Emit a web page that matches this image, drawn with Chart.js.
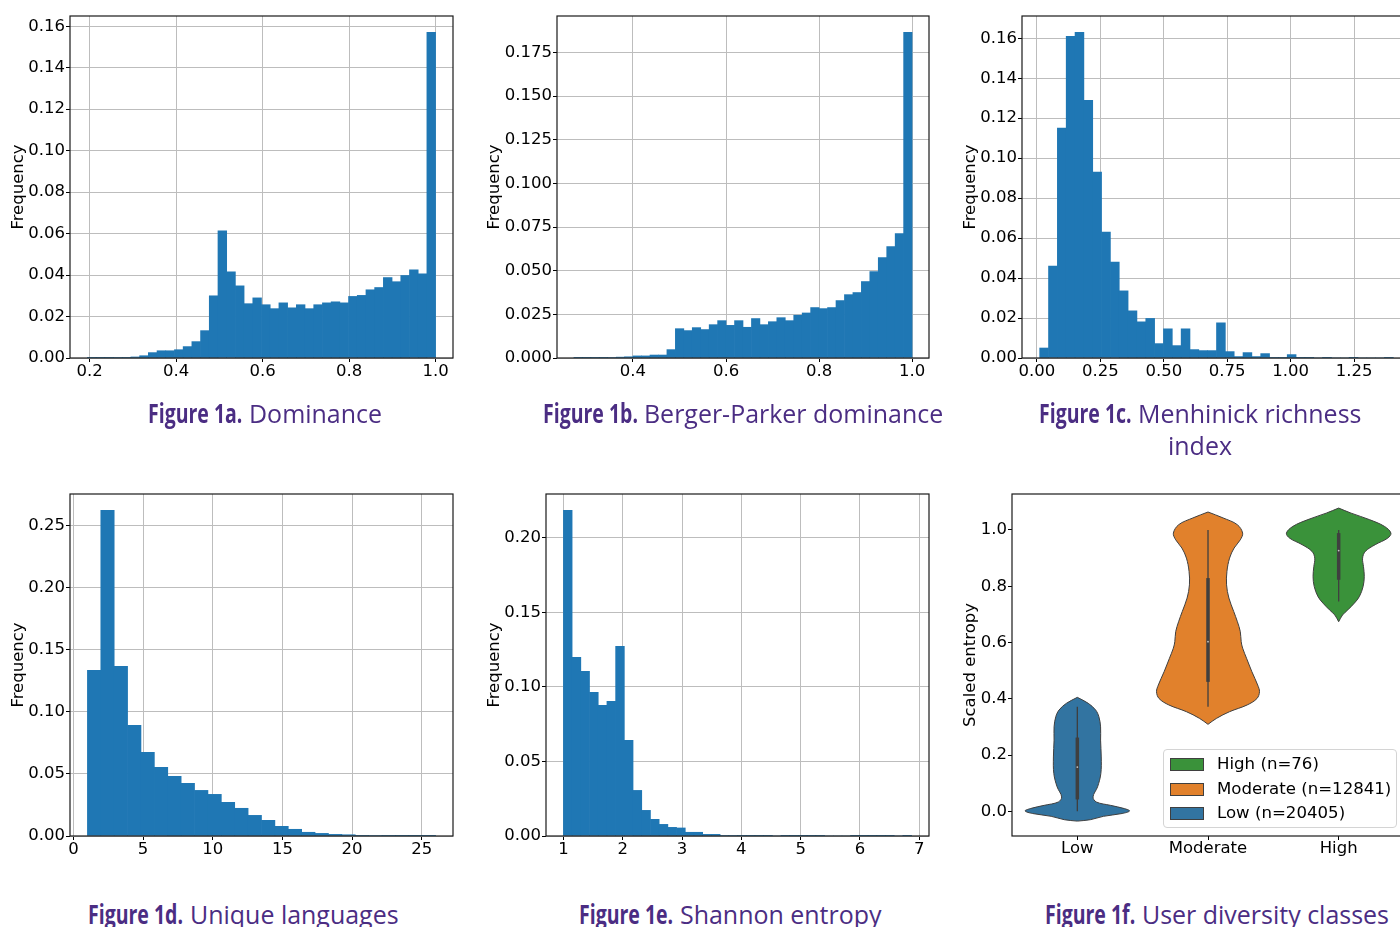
<!DOCTYPE html>
<html>
<head>
<meta charset="utf-8">
<script src="https://cdn.jsdelivr.net/npm/chart.js@4.4.0/dist/chart.umd.min.js"></script>
<style>
  html, body { margin: 0; padding: 0; background: #fff; }
  body { width: 1400px; height: 927px; overflow: hidden; position: relative; }
  canvas { position: absolute; }
  .cap {
    position: absolute; width: 600px; margin-left: -300px; text-align: center;
    font-family: 'Open Sans', sans-serif;
    font-size: 26px; line-height: 32px; color: #4b2d83; white-space: nowrap;
  }
  .sq { display: inline-block; white-space: nowrap; vertical-align: top; }
  .sq > span { display: inline-block; transform-origin: 0 0; }
  .bold { font-weight: 700; }
  #leg {
    position: absolute; left: 1163px; top: 749px; width: 232px; height: 77px;
    border: 1px solid #d4d4d4; border-radius: 4px; background: rgba(255,255,255,0.8);
    font-family: 'DejaVu Sans', sans-serif; font-size: 16.6px; color: #000;
  }
  #leg .row { position: absolute; left: 0; height: 20px; line-height: 20px; white-space: nowrap; }
  #leg .patch { position: absolute; left: 6px; top: 4px; width: 32px; height: 11px; border: 1px solid #3f3f3f; }
  #leg .txt { position: absolute; left: 53px; top: 0; }
</style>
</head>
<body>
<canvas id="ca"></canvas>
<canvas id="cb"></canvas>
<canvas id="cc"></canvas>
<canvas id="cd"></canvas>
<canvas id="ce"></canvas>
<canvas id="cf"></canvas>
<div id="leg"></div>

<script>
// --- DATA ---
// 1a Dominance: 40 bins
const A_RANGE = [0.195, 1.0];
const A_FREQ = [0.0001, 0.0001, 0.0001, 0.0002, 0.0003, 0.0005, 0.0011, 0.0026, 0.0035, 0.0035,
  0.0040, 0.0055, 0.0079, 0.0132, 0.0300, 0.0613, 0.0416, 0.0348, 0.0262, 0.0290,
  0.0257, 0.0238, 0.0266, 0.0242, 0.0257, 0.0238, 0.0257, 0.0266, 0.0271, 0.0266,
  0.0297, 0.0302, 0.0329, 0.0340, 0.0388, 0.0368, 0.0398, 0.0425, 0.0406, 0.1571];
const A_XTICKS = [0.2, 0.4, 0.6, 0.8, 1.0];
const A_YTICKS = [0, 0.02, 0.04, 0.06, 0.08, 0.10, 0.12, 0.14, 0.16];

// 1b Berger-Parker dominance
const B_RANGE = [0.273, 1.0];
const B_FREQ = [0.0001, 0.0001, 0.0002, 0.0002, 0.0003, 0.0005, 0.0007, 0.0012, 0.0012, 0.0017,
  0.0017, 0.0048, 0.0168, 0.0157, 0.0174, 0.0163, 0.0191, 0.0214, 0.0187, 0.0214,
  0.0176, 0.0226, 0.0191, 0.0208, 0.0231, 0.0214, 0.0245, 0.0258, 0.0289, 0.0283,
  0.0289, 0.0329, 0.0363, 0.0375, 0.0438, 0.0495, 0.0576, 0.0639, 0.0713, 0.1866];
const B_XTICKS = [0.4, 0.6, 0.8, 1.0];
const B_YTICKS = [0, 0.025, 0.05, 0.075, 0.1, 0.125, 0.15, 0.175];

// 1c Menhinick richness index
const C_RANGE = [0.0107, 1.405];
const C_FREQ = [0.005, 0.046, 0.115, 0.161, 0.163, 0.129, 0.093, 0.063, 0.048, 0.0336,
  0.0236, 0.0181, 0.0198, 0.0072, 0.0146, 0.0062, 0.0146, 0.0042, 0.0037, 0.0037,
  0.0176, 0.0032, 0.0007, 0.0027, 0.0007, 0.0022, 0.0003, 0.0002, 0.0017, 0.0001,
  0.0001, 0, 0.0001, 0, 0, 0.0001, 0, 0, 0, 0.0001];
const C_XTICKS = [0, 0.25, 0.5, 0.75, 1.0, 1.25];
const C_YTICKS = [0, 0.02, 0.04, 0.06, 0.08, 0.10, 0.12, 0.14, 0.16];

// 1d Unique languages: 26 bins
const D_RANGE = [1, 26];
const D_FREQ = [0.1333, 0.2621, 0.1365, 0.0891, 0.0673, 0.0553, 0.0480, 0.0424, 0.0367, 0.0335,
  0.0271, 0.0223, 0.0166, 0.0126, 0.0078, 0.0054, 0.0030, 0.0021, 0.0013, 0.0010,
  0.0005, 0.0004, 0.0003, 0.0002, 0.0002, 0.0002];
const D_XTICKS = [0, 5, 10, 15, 20, 25];
const D_YTICKS = [0, 0.05, 0.10, 0.15, 0.20, 0.25];

// 1e Shannon entropy
const E_RANGE = [1.0, 6.87];
const E_FREQ = [0.2186, 0.1199, 0.1105, 0.0964, 0.0877, 0.0904, 0.1273, 0.0642, 0.0306, 0.0172,
  0.0112, 0.0078, 0.0058, 0.0054, 0.0025, 0.0025, 0.0011, 0.0011, 0.0003, 0.0003,
  0.0002, 0.0002, 0.0002, 0.0002, 0, 0.0002, 0.0002, 0.0002, 0.0002, 0.0002,
  0, 0, 0, 0.0002, 0.0002, 0.0002, 0.0002, 0.0002, 0, 0.0002];
const E_XTICKS = [1, 2, 3, 4, 5, 6, 7];
const E_YTICKS = [0, 0.05, 0.10, 0.15, 0.20];

// 1f violin: classes, sizes, density half-widths at entropy levels
const CLASSES = ['Low', 'Moderate', 'High'];
const CLASS_N = [20405, 12841, 76];
const CLASS_COLORS = ['#3274a1', '#e1812c', '#3a923a'];
const LOW_Y = [-0.035, -0.03, -0.018, -0.008, 0.001, 0.0095, 0.021, 0.033, 0.051, 0.087, 0.134, 0.193, 0.253, 0.30, 0.336, 0.36, 0.384, 0.405];
const LOW_W = [0, 0.10, 0.20, 0.343, 0.40, 0.36, 0.254, 0.145, 0.12, 0.155, 0.18, 0.183, 0.178, 0.178, 0.165, 0.14, 0.083, 0];
const MOD_Y = [0.309, 0.33, 0.354, 0.378, 0.401, 0.425, 0.449, 0.496, 0.544, 0.58, 0.603, 0.639, 0.674, 0.71, 0.758, 0.805, 0.853, 0.90, 0.936, 0.965, 0.989, 1.019, 1.043, 1.064];
const MOD_W = [0, 0.064, 0.165, 0.30, 0.375, 0.394, 0.38, 0.336, 0.295, 0.265, 0.254, 0.247, 0.225, 0.197, 0.16, 0.142, 0.145, 0.165, 0.2, 0.247, 0.265, 0.224, 0.115, 0];
const HIGH_Y = [0.674, 0.698, 0.716, 0.74, 0.763, 0.799, 0.835, 0.87, 0.90, 0.924, 0.948, 0.971, 0.989, 1.013, 1.037, 1.06, 1.078];
const HIGH_W = [0, 0.03, 0.07, 0.12, 0.158, 0.187, 0.196, 0.19, 0.183, 0.204, 0.28, 0.375, 0.40, 0.35, 0.235, 0.095, 0];
const WHISK_LO = [0.0, 0.372, 0.746];
const BOX_Q1 = [0.042, 0.46, 0.823];
const BOX_MED = [0.157, 0.603, 0.927];
const BOX_Q3 = [0.262, 0.829, 0.989];
const WHISK_HI = [0.372, 1.0, 1.0];
const F_YTICKS = [0, 0.2, 0.4, 0.6, 0.8, 1.0];

// --- SETUP ---
Chart.defaults.font.family = "'DejaVu Sans', sans-serif";
Chart.defaults.font.size = 16.5;
Chart.defaults.color = '#000';

const BLUE = '#1f77b4';
const GRID = '#bdbdbd';

// axes frame on all four sides like matplotlib spines
const frame = {
  id: 'frame',
  afterDraw(chart) {
    const { ctx, chartArea: a } = chart;
    ctx.save();
    ctx.strokeStyle = '#1a1a1a';
    ctx.lineWidth = 1.2;
    ctx.strokeRect(a.left, a.top, a.right - a.left, a.bottom - a.top);
    ctx.restore();
  }
};

function placeCanvas(id, area, yW, padTop, axisH, padRight) {
  const c = document.getElementById(id);
  c.width = yW + (area[2] - area[0]) + padRight;
  c.height = padTop + (area[3] - area[1]) + axisH;
  c.style.left = (area[0] - yW) + 'px';
  c.style.top = (area[1] - padTop) + 'px';
  return c;
}

function hist(id, area, yW, labelX, range, freq, xTicks, xDec, yTicks, yDec) {
  const padTop = 16, axisH = 40, padRight = 20;
  const canvas = placeCanvas(id, area, yW, padTop, axisH, padRight);
  const [lo, hi] = range;
  const bw = (hi - lo) / freq.length;
  const pts = freq.map((v, k) => ({ x: lo + bw * (k + 0.5), y: v }));
  const m = 0.05 * (hi - lo);
  new Chart(canvas, {
    type: 'bar',
    data: {
      datasets: [{
        data: pts, backgroundColor: BLUE, borderWidth: 0,
        barPercentage: 1, categoryPercentage: 1
      }]
    },
    options: {
      responsive: false, animation: false,
      layout: { padding: { top: padTop, right: padRight, left: 0, bottom: 0 } },
      plugins: { legend: { display: false }, tooltip: { enabled: false } },
      scales: {
        x: {
          type: 'linear', min: lo - m, max: hi + m, offset: false, z: 1,
          afterFit: s => { s.height = axisH; },
          afterBuildTicks: s => { s.ticks = xTicks.map(v => ({ value: v })); },
          ticks: { callback: v => v.toFixed(xDec), padding: 0, maxRotation: 0, autoSkip: false },
          grid: { color: GRID, tickColor: '#000', tickLength: 4, offset: false },
          border: { display: false }
        },
        y: {
          min: 0, max: Math.max(...freq) * 1.05, z: 1,
          afterFit: s => { s.width = yW; },
          afterBuildTicks: s => { s.ticks = yTicks.map(v => ({ value: v })); },
          ticks: { callback: v => v.toFixed(yDec), padding: 1 },
          grid: { color: GRID, tickColor: '#000', tickLength: 4 },
          border: { display: false },
          title: {
            display: true, text: 'Frequency',
            padding: { top: yW - (area[0] - labelX) - 9.9, bottom: 0 }
          }
        }
      }
    },
    plugins: [frame]
  });
}

hist('ca', [70, 16, 453, 358], 70, 18.7, A_RANGE, A_FREQ, A_XTICKS, 1, A_YTICKS, 2);
hist('cb', [557, 16, 929, 358], 80, 495, B_RANGE, B_FREQ, B_XTICKS, 1, B_YTICKS, 3);
hist('cc', [1022, 16, 1411, 358], 70, 970.3, C_RANGE, C_FREQ, C_XTICKS, 2, C_YTICKS, 2);
hist('cd', [70, 494, 453, 836], 70, 18.7, D_RANGE, D_FREQ, D_XTICKS, 0, D_YTICKS, 2);
hist('ce', [546, 494, 929, 836], 70, 494.5, E_RANGE, E_FREQ, E_XTICKS, 0, E_YTICKS, 2);

// --- VIOLIN ---
function violinPts(center, ys, ws) {
  const right = ys.map((y, i) => ({ x: center + ws[i], y }));
  const left = ys.map((y, i) => ({ x: center - ws[i], y })).reverse();
  return right.concat(left);
}

(function () {
  const area = [1012, 494, 1404, 836];
  const yW = 60, padTop = 16, axisH = 40, padRight = 10;
  const canvas = placeCanvas('cf', area, yW, padTop, axisH, padRight);
  const profiles = [[LOW_Y, LOW_W], [MOD_Y, MOD_W], [HIGH_Y, HIGH_W]];
  const datasets = [];
  // higher order is drawn first (underneath)
  profiles.forEach(([ys, ws], i) => {
    datasets.push({
      data: violinPts(i, ys, ws), fill: 'shape', backgroundColor: CLASS_COLORS[i], order: 3,
      borderColor: '#3f3f3f', borderWidth: 1, pointRadius: 0, tension: 0.35
    });
  });
  CLASSES.forEach((c, i) => {
    datasets.push({
      data: [{ x: i, y: WHISK_LO[i] }, { x: i, y: WHISK_HI[i] }], order: 2,
      borderColor: '#3f3f3f', borderWidth: 1.3, pointRadius: 0, fill: false
    });
    datasets.push({
      data: [{ x: i, y: BOX_Q1[i] }, { x: i, y: BOX_Q3[i] }], order: 1,
      borderColor: '#3f3f3f', borderWidth: 3.5, borderCapStyle: 'butt', pointRadius: 0, fill: false
    });
  });
  datasets.push({
    data: BOX_MED.map((y, i) => ({ x: i, y })), showLine: false, order: 0,
    pointRadius: 0.9, pointBackgroundColor: 'rgba(255,255,255,0.7)', pointBorderWidth: 0
  });

  new Chart(canvas, {
    type: 'line',
    data: { datasets },
    options: {
      responsive: false, animation: false,
      layout: { padding: { top: padTop, right: padRight, left: 0, bottom: 0 } },
      plugins: { legend: { display: false }, tooltip: { enabled: false } },
      scales: {
        x: {
          type: 'linear', min: -0.5, max: 2.5, offset: false,
          afterFit: s => { s.height = axisH; },
          afterBuildTicks: s => { s.ticks = CLASSES.map((c, i) => ({ value: i })); },
          ticks: { callback: v => CLASSES[v], padding: -1, maxRotation: 0, autoSkip: false },
          grid: { drawOnChartArea: false, tickColor: '#000', tickLength: 4 },
          border: { display: false }
        },
        y: {
          min: -0.088, max: 1.128,
          afterFit: s => { s.width = yW; },
          afterBuildTicks: s => { s.ticks = F_YTICKS.map(v => ({ value: v })); },
          ticks: { callback: v => v.toFixed(1), padding: 1 },
          grid: { drawOnChartArea: false, tickColor: '#000', tickLength: 4 },
          border: { display: false },
          title: { display: true, text: 'Scaled entropy', padding: { top: yW - (area[0] - 970.3) - 9.9, bottom: 0 } }
        }
      }
    },
    plugins: [frame]
  });
})();

// legend: High, Moderate, Low from top
const leg = document.getElementById('leg');
[2, 1, 0].forEach((ci, r) => {
  const row = document.createElement('div');
  row.className = 'row';
  row.style.top = (4 + r * 24.5) + 'px';
  row.innerHTML = '<span class="patch" style="background:' + CLASS_COLORS[ci] + '"></span>' +
    '<span class="txt">' + CLASSES[ci] + ' (n=' + CLASS_N[ci] + ')</span>';
  leg.appendChild(row);
});

// captions (condensed look: bold part squeezed horizontally)
const CAPTIONS = [
  ['Figure 1a.', ['Dominance'], 265, 397],
  ['Figure 1b.', ['Berger-Parker dominance'], 743, 397],
  ['Figure 1c.', ['Menhinick richness', 'index'], 1200, 397],
  ['Figure 1d.', ['Unique languages'], 243, 898],
  ['Figure 1e.', ['Shannon entropy'], 730, 898],
  ['Figure 1f.', ['User diversity classes'], 1217, 898]
];
function squeezed(text, cls, s) {
  const outer = document.createElement('span');
  outer.className = 'sq';
  const inner = document.createElement('span');
  if (cls) inner.className = cls;
  inner.textContent = text;
  outer.appendChild(inner);
  outer.dataset.s = s;
  return outer;
}
CAPTIONS.forEach(([b, lines, cx, top]) => {
  const d = document.createElement('div');
  d.className = 'cap';
  d.style.left = cx + 'px';
  d.style.top = top + 'px';
  d.appendChild(squeezed(b, 'bold', 0.75));
  d.appendChild(document.createTextNode(' '));
  d.appendChild(squeezed(lines[0], '', 0.96));
  if (lines[1]) {
    d.appendChild(document.createElement('br'));
    d.appendChild(squeezed(lines[1], '', 0.96));
  }
  document.body.appendChild(d);
});
document.querySelectorAll('.sq').forEach(o => {
  const s = +o.dataset.s;
  const inner = o.firstChild;
  const w = inner.getBoundingClientRect().width;
  o.style.width = (w * s) + 'px';
  inner.style.transform = 'scaleX(' + s + ')';
});
</script>
</body>
</html>
